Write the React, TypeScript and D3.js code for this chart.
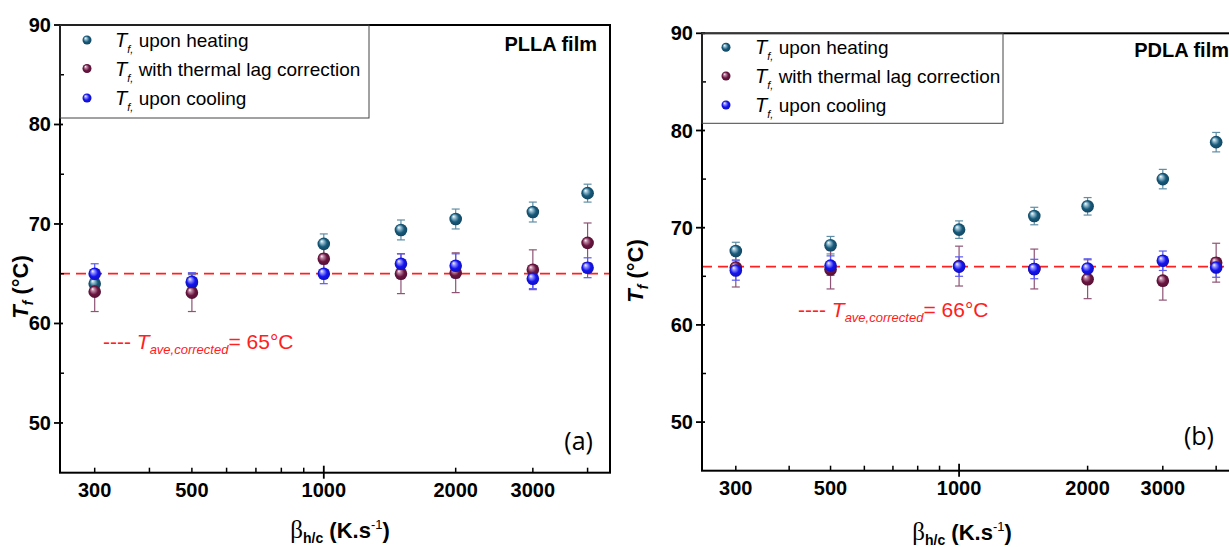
import React from "react";
import * as d3 from "d3";

// ---------- data ----------
const rates = [300, 500, 1000, 1500, 2000, 3000, 4000];

// PLLA film (a)
const heatingA = [64.0, 64.1, 68.0, 69.4, 70.5, 71.2, 73.1];
const heatingErrA = [0.8, 0.8, 1.0, 1.0, 1.0, 1.0, 0.9];
const correctedA = [63.2, 63.1, 66.5, 65.0, 65.1, 65.4, 68.1];
const correctedErrA = [2.0, 1.9, 1.5, 2.0, 2.0, 2.0, 2.0];
const coolingA = [65.0, 64.2, 65.0, 66.0, 65.8, 64.5, 65.6];
const coolingErrA = [1.0, 0.9, 1.0, 1.0, 1.2, 1.0, 1.0];
const avgA = 65;

// PDLA film (b)
const heatingB = [67.6, 68.2, 69.8, 71.2, 72.2, 75.0, 78.8];
const heatingErrB = [0.9, 0.9, 0.9, 0.9, 0.9, 1.0, 1.0];
const correctedB = [65.9, 65.7, 66.05, 65.75, 64.7, 64.55, 66.4];
const correctedErrB = [2.0, 2.0, 2.05, 2.05, 2.0, 2.0, 2.0];
const coolingB = [65.6, 66.1, 66.0, 65.75, 65.8, 66.6, 65.9];
const coolingErrB = [1.0, 1.0, 1.0, 1.0, 1.0, 1.0, 1.0];
const avgB = 66;

// axes
const xDomain = [250, 4500];
const yDomain = [45, 90];
const xMinorTicks = [300, 400, 500, 600, 700, 800, 900, 2000, 3000, 4000];
const xMajorTicks = [1000];
const xTickLabels = [300, 500, 1000, 2000, 3000];
const yMajorTicks = [50, 60, 70, 80, 90];
const yMinorTicks = [55, 65, 75, 85];

const seriesNames = ["upon heating", "with thermal lag correction", "upon cooling"];
const seriesColors = ["#17597a", "#6a1540", "#1414f0"];
const seriesLight = ["#9cc3d6", "#c08aa6", "#9a9aff"];
const errColors = ["#5f8ea6", "#8e5475", "#5a5af2"];

const FONT = "'Liberation Sans', Arial, Helvetica, sans-serif";

type PanelProps = {
  id: string;
  x0: number; x1: number; y0: number; y1: number;
  series: number[][];
  errs: number[][];
  avg: number;
  film: string;
  filmX: number; filmY: number;
  tag: string; tagX: number; tagY: number;
  annX: number; annY: number;
  legendW: number; legendH: number; legendRows: number[];
  legendMarkerDx: number; legendTextDx: number;
  yTitleX: number; yTitleY: number;
  xTitleX: number; xTitleY: number;
};

function Panel(p: PanelProps) {
  const x = d3.scaleLog().domain(xDomain).range([p.x0, p.x1]);
  const y = d3.scaleLinear().domain(yDomain).range([p.y1, p.y0]);
  const cap = 4;
  return (
    <g>
      {/* dashed average line */}
      <line x1={p.x0} x2={p.x1} y1={y(p.avg)} y2={y(p.avg)} stroke="#ff2020" strokeWidth={1.8} strokeDasharray="10,6" />
      {/* error bars */}
      {p.series.map((s, si) =>
        s.map((v, i) => {
          const cx = x(rates[i]);
          const e = p.errs[si][i];
          return (
            <g key={`e${si}-${i}`} stroke={errColors[si]} strokeWidth={1.2}>
              <line x1={cx} x2={cx} y1={y(v + e)} y2={y(v - e)} />
              <line x1={cx - cap} x2={cx + cap} y1={y(v + e)} y2={y(v + e)} />
              <line x1={cx - cap} x2={cx + cap} y1={y(v - e)} y2={y(v - e)} />
            </g>
          );
        })
      )}
      {/* points */}
      {p.series.map((s, si) =>
        s.map((v, i) => (
          <circle key={`p${si}-${i}`} cx={x(rates[i])} cy={y(v)} r={6.3} fill={`url(#${p.id}g${si})`} />
        ))
      )}
      {/* frame */}
      <rect x={p.x0} y={p.y0} width={p.x1 - p.x0} height={p.y1 - p.y0} fill="none" stroke="#000" strokeWidth={2} />
      {/* x ticks */}
      {xMinorTicks.map((t) => (
        <line key={`xm${t}`} x1={x(t)} x2={x(t)} y1={p.y1} y2={p.y1 - 5} stroke="#000" strokeWidth={1.5} />
      ))}
      {xMajorTicks.map((t) => (
        <line key={`xM${t}`} x1={x(t)} x2={x(t)} y1={p.y1 + 6} y2={p.y1 - 7} stroke="#000" strokeWidth={1.8} />
      ))}
      {xTickLabels.map((t) => (
        <text key={`xl${t}`} x={x(t)} y={p.y1 + 24} textAnchor="middle" fontFamily={FONT} fontWeight="bold" fontSize={20}>
          {t}
        </text>
      ))}
      {/* y ticks */}
      {yMajorTicks.map((t) => (
        <line key={`ym${t}`} x1={p.x0 - 6} x2={p.x0 + 3} y1={y(t)} y2={y(t)} stroke="#000" strokeWidth={1.8} />
      ))}
      {yMinorTicks.map((t) => (
        <line key={`yn${t}`} x1={p.x0} x2={p.x0 + 4} y1={y(t)} y2={y(t)} stroke="#000" strokeWidth={1.5} />
      ))}
      {yMajorTicks.map((t) => (
        <text key={`yl${t}`} x={p.x0 - 9} y={y(t) + 7} textAnchor="end" fontFamily={FONT} fontWeight="bold" fontSize={20}>
          {t}
        </text>
      ))}
      {/* legend */}
      <rect x={p.x0} y={p.y0} width={p.legendW} height={p.legendH} fill="none" stroke="#444" strokeWidth={1} />
      {seriesNames.map((n, si) => (
        <g key={`lg${si}`}>
          <circle cx={p.x0 + p.legendMarkerDx} cy={p.y0 + p.legendRows[si]} r={4.5} fill={`url(#${p.id}g${si})`} />
          <text x={p.x0 + p.legendTextDx} y={p.y0 + p.legendRows[si] + 7} fontFamily={FONT} fontSize={19}>
            <tspan fontStyle="italic" fontSize={20}>T</tspan>
            <tspan fontStyle="italic" fontSize={11} dy={6}>f,</tspan>
            <tspan dy={-6}> {n}</tspan>
          </text>
        </g>
      ))}
      {/* film label */}
      <text x={p.filmX} y={p.filmY} textAnchor="end" fontFamily={FONT} fontWeight="bold" fontSize={20}>
        {p.film}
      </text>
      {/* panel tag */}
      <text x={p.tagX} y={p.tagY} textAnchor="end" fontFamily="'Open Sans', 'Liberation Sans', sans-serif" fontSize={25}>
        {p.tag}
      </text>
      {/* average annotation */}
      <text x={p.annX} y={p.annY} fill="#ff2020" fontFamily={FONT} fontSize={21}>
        <tspan>---- </tspan>
        <tspan fontStyle="italic">T</tspan>
        <tspan fontStyle="italic" fontSize={13} dy={5}>ave,corrected</tspan>
        <tspan dy={-5}>= {p.avg}°C</tspan>
      </text>
      {/* y title */}
      <text transform={`translate(${p.yTitleX},${p.yTitleY}) rotate(-90)`} textAnchor="middle" fontFamily={FONT} fontWeight="bold" fontSize={22}>
        <tspan fontStyle="italic">T</tspan>
        <tspan fontStyle="italic" fontSize={14} dy={5}>f</tspan>
        <tspan dy={-5}> (°C)</tspan>
      </text>
      {/* x title */}
      <text x={p.xTitleX} y={p.xTitleY} textAnchor="middle" fontFamily={FONT} fontWeight="bold" fontSize={22}>
        <tspan fontWeight="normal" fontFamily="'Liberation Serif', serif" fontSize={25}>β</tspan>
        <tspan fontSize={14} dy={5}>h/c</tspan>
        <tspan dy={-5}> (K.s</tspan>
        <tspan fontSize={13} fontWeight="normal" dy={-9}>-1</tspan>
        <tspan dy={9}>)</tspan>
      </text>
    </g>
  );
}

function Gradients({ id }: { id: string }) {
  return (
    <>
      {seriesColors.map((c, si) => (
        <radialGradient key={si} id={`${id}g${si}`} cx="50%" cy="50%" r="55%" fx="32%" fy="28%">
          <stop offset="0%" stopColor="#ffffff" />
          <stop offset="22%" stopColor={seriesLight[si]} />
          <stop offset="60%" stopColor={c} />
          <stop offset="100%" stopColor={d3.color(c)!.darker(0.8).toString()} />
        </radialGradient>
      ))}
    </>
  );
}

export default function App() {
  return (
    <div style={{ position: "absolute", left: 0, top: 0 }}>
      <svg width={1229} height={547} style={{ display: "block", background: "#fff" }}>
        <defs>
          <Gradients id="a" />
          <Gradients id="b" />
        </defs>
        <Panel
          id="a"
          x0={60} x1={610} y0={25} y1={472.7}
          series={[heatingA, correctedA, coolingA]}
          errs={[heatingErrA, correctedErrA, coolingErrA]}
          avg={avgA}
          film="PLLA film" filmX={597} filmY={51}
          tag="(a)" tagX={593} tagY={450}
          annX={103} annY={348.5}
          legendW={309} legendH={93} legendRows={[15, 43.5, 73]}
          legendMarkerDx={27} legendTextDx={55}
          yTitleX={28} yTitleY={287}
          xTitleX={340} xTitleY={538}
        />
        <Panel
          id="b"
          x0={702} x1={1238} y0={33.3} y1={470.7}
          series={[heatingB, correctedB, coolingB]}
          errs={[heatingErrB, correctedErrB, coolingErrB]}
          avg={avgB}
          film="PDLA film" filmX={1229} filmY={57}
          tag="(b)" tagX={1214} tagY={445}
          annX={798} annY={316.7}
          legendW={301} legendH={90} legendRows={[14, 42.7, 71.7]}
          legendMarkerDx={24} legendTextDx={53}
          yTitleX={643} yTitleY={271}
          xTitleX={962} xTitleY={540}
        />
      </svg>
    </div>
  );
}
